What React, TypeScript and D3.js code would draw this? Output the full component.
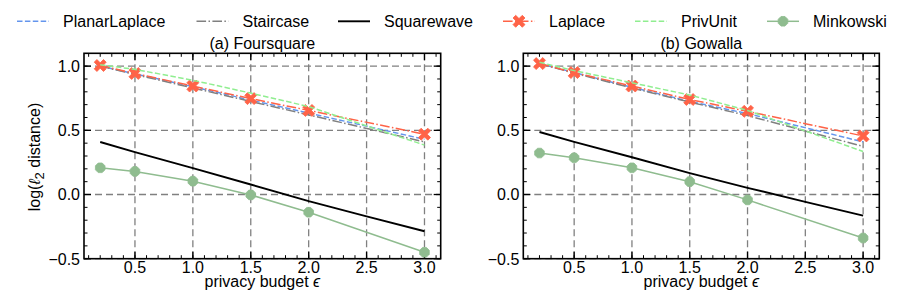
import * as d3 from "d3";

// x positions (privacy budget epsilon)
const epsilons = [0.2, 0.5, 1.0, 1.5, 2.0, 3.0];
const epsilonsSquare = [0.2, 0.5, 1.0, 1.5, 2.0, 2.5, 3.0];

// (a) Foursquare
const fsPlanarLaplace = [1.0, 0.94, 0.84, 0.735, 0.635, 0.43];
const fsStaircase = [1.0, 0.935, 0.83, 0.725, 0.62, 0.41];
const fsSquarewave = [0.409, 0.33, 0.206, 0.078, -0.052, -0.17, -0.286];
const fsLaplace = [1.005, 0.943, 0.845, 0.747, 0.655, 0.47];
const fsPrivUnit = [1.01, 0.975, 0.89, 0.79, 0.685, 0.385];
const fsMinkowski = [0.208, 0.18, 0.104, -0.003, -0.138, -0.45];

// (b) Gowalla
const gwPlanarLaplace = [1.02, 0.95, 0.835, 0.725, 0.63, 0.41];
const gwStaircase = [1.02, 0.945, 0.83, 0.72, 0.615, 0.375];
const gwSquarewave = [0.487, 0.41, 0.29, 0.167, 0.052, -0.057, -0.164];
const gwLaplace = [1.02, 0.95, 0.845, 0.74, 0.648, 0.456];
const gwPrivUnit = [1.03, 0.965, 0.87, 0.775, 0.655, 0.335];
const gwMinkowski = [0.323, 0.286, 0.208, 0.1, -0.042, -0.339];

const xTicks = [0.5, 1.0, 1.5, 2.0, 2.5, 3.0];
const yTicks = [-0.5, 0.0, 0.5, 1.0];

const FONT = "'Liberation Sans', Arial, Helvetica, sans-serif";
const TOP = 53.3;
const BOTTOM = 258.7;

type Series = {
  name: string;
  xs: number[];
  ys: number[];
  color: string;
  dash?: string;
  width: number;
  marker?: "x" | "oct";
};

const styles = {
  PlanarLaplace: { color: "#6495ED", dash: "5.5,2.4", width: 1.5 },
  Staircase: { color: "#808080", dash: "9.6,2.4,1.5,2.4", width: 1.5 },
  Squarewave: { color: "#000000", dash: undefined, width: 1.9 },
  Laplace: { color: "#FF6347", dash: "9.6,2.4,1.5,2.4", width: 1.5 },
  PrivUnit: { color: "#90EE90", dash: "5.5,2.4", width: 1.5 },
  Minkowski: { color: "#8FBC8F", dash: undefined, width: 1.5 },
};

function makeSeries(
  pl: number[],
  st: number[],
  sq: number[],
  la: number[],
  pu: number[],
  mi: number[]
): Series[] {
  return [
    { name: "PlanarLaplace", xs: epsilons, ys: pl, ...styles.PlanarLaplace },
    { name: "Staircase", xs: epsilons, ys: st, ...styles.Staircase },
    { name: "Squarewave", xs: epsilonsSquare, ys: sq, ...styles.Squarewave },
    { name: "Laplace", xs: epsilons, ys: la, ...styles.Laplace, marker: "x" },
    { name: "PrivUnit", xs: epsilons, ys: pu, ...styles.PrivUnit },
    { name: "Minkowski", xs: epsilons, ys: mi, ...styles.Minkowski, marker: "oct" },
  ];
}

const xPath = (s: number) => {
  const a = s * 0.45;
  const b = s;
  return `M${-b},${-b + a}L${-b + a},${-b}L0,${-a}L${b - a},${-b}L${b},${-b + a}L${a},0L${b},${b - a}L${b - a},${b}L0,${a}L${-b + a},${b}L${-b},${b - a}L${-a},0Z`;
};

const octPath = (r: number) => {
  const pts = d3.range(8).map((i) => {
    const t = (Math.PI / 8) * (2 * i + 1);
    return [r * Math.cos(t), r * Math.sin(t)];
  });
  return "M" + pts.map((p) => p.join(",")).join("L") + "Z";
};

function Marker({ type, color, x, y }: { type?: string; color: string; x: number; y: number }) {
  if (type === "x")
    return <path d={xPath(6)} transform={`translate(${x},${y})`} fill={color} stroke={color} strokeWidth={0.8} />;
  if (type === "oct")
    return <path d={octPath(5.2)} transform={`translate(${x},${y})`} fill={color} stroke={color} strokeWidth={0.8} />;
  return null;
}

function Panel({ left, right, title, series }: { left: number; right: number; title: string; series: Series[] }) {
  const x = d3.scaleLinear().domain([0.06, 3.14]).range([left, right]);
  const y = d3.scaleLinear().domain([-0.5, 1.1]).range([BOTTOM, TOP]);
  const xMinor = d3.range(1, 32).map((i) => i / 10).filter((v) => v > 0.06 && v < 3.14);
  const yMinor = d3.range(-5, 11).map((i) => i / 10);
  const line = d3
    .line<[number, number]>()
    .x((d) => x(d[0]))
    .y((d) => y(d[1]));
  const cx = (left + right) / 2;

  return (
    <g>
      <clipPath id={`clip-${left}`}>
        <rect x={left} y={TOP} width={right - left} height={BOTTOM - TOP} />
      </clipPath>
      {/* grid */}
      {xTicks.map((t) => (
        <line key={"gx" + t} x1={x(t)} x2={x(t)} y1={TOP} y2={BOTTOM} stroke="#808080" strokeWidth={1.3} strokeDasharray="7,4" />
      ))}
      {yTicks.map((t) => (
        <line key={"gy" + t} x1={left} x2={right} y1={y(t)} y2={y(t)} stroke="#808080" strokeWidth={1.3} strokeDasharray="7,4" />
      ))}
      {/* ticks */}
      {xMinor.map((t) => (
        <g key={"xm" + t}>
          <line x1={x(t)} x2={x(t)} y1={BOTTOM} y2={BOTTOM - 3.5} stroke="#000" strokeWidth={1} />
          <line x1={x(t)} x2={x(t)} y1={TOP} y2={TOP + 3.5} stroke="#000" strokeWidth={1} />
        </g>
      ))}
      {yMinor.map((t) => (
        <g key={"ym" + t}>
          <line x1={left} x2={left + 3.5} y1={y(t)} y2={y(t)} stroke="#000" strokeWidth={1} />
          <line x1={right} x2={right - 3.5} y1={y(t)} y2={y(t)} stroke="#000" strokeWidth={1} />
        </g>
      ))}
      {xTicks.map((t) => (
        <g key={"xt" + t}>
          <line x1={x(t)} x2={x(t)} y1={BOTTOM} y2={BOTTOM - 7} stroke="#000" strokeWidth={1.3} />
          <line x1={x(t)} x2={x(t)} y1={TOP} y2={TOP + 7} stroke="#000" strokeWidth={1.3} />
          <text x={x(t)} y={BOTTOM + 14.3} textAnchor="middle" fontSize={16}>
            {t.toFixed(1)}
          </text>
        </g>
      ))}
      {yTicks.map((t) => (
        <g key={"yt" + t}>
          <line x1={left} x2={left + 7} y1={y(t)} y2={y(t)} stroke="#000" strokeWidth={1.3} />
          <line x1={right} x2={right - 7} y1={y(t)} y2={y(t)} stroke="#000" strokeWidth={1.3} />
          <text x={left - 4} y={y(t) + 5.8} textAnchor="end" fontSize={16}>
            {t < 0 ? "\u2212" + Math.abs(t).toFixed(1) : t.toFixed(1)}
          </text>
        </g>
      ))}
      {/* series */}
      <g clipPath={`url(#clip-${left})`}>
        {series.map((s) => (
          <g key={s.name}>
            <path
              d={line(s.xs.map((v, i) => [v, s.ys[i]] as [number, number])) || ""}
              fill="none"
              stroke={s.color}
              strokeWidth={s.width}
              strokeDasharray={s.dash}
            />
            {s.marker &&
              s.xs.map((v, i) => <Marker key={i} type={s.marker} color={s.color} x={x(v)} y={y(s.ys[i])} />)}
          </g>
        ))}
      </g>
      {/* frame */}
      <rect x={left} y={TOP} width={right - left} height={BOTTOM - TOP} fill="none" stroke="#000" strokeWidth={1.6} />
      <text x={cx} y={49} textAnchor="middle" fontSize={16}>
        {title}
      </text>
      <text x={cx} y={286.5} textAnchor="middle" fontSize={16}>
        privacy budget <tspan fontStyle="italic">ϵ</tspan>
      </text>
    </g>
  );
}

const legendItems = [
  { name: "PlanarLaplace", x0: 17, marker: undefined },
  { name: "Staircase", x0: 196.5, marker: undefined },
  { name: "Squarewave", x0: 338, marker: undefined },
  { name: "Laplace", x0: 503, marker: "x" },
  { name: "PrivUnit", x0: 635, marker: undefined },
  { name: "Minkowski", x0: 767, marker: "oct" },
];

export default function App() {
  const seriesA = makeSeries(fsPlanarLaplace, fsStaircase, fsSquarewave, fsLaplace, fsPrivUnit, fsMinkowski);
  const seriesB = makeSeries(gwPlanarLaplace, gwStaircase, gwSquarewave, gwLaplace, gwPrivUnit, gwMinkowski);
  return (
    <svg
      width={904}
      height={300}
      style={{ position: "absolute", left: 0, top: 0, background: "#fff" }}
      fontFamily={FONT}
    >
      <rect width={904} height={300} fill="#fff" />
      {legendItems.map((it) => {
        const st = (styles as any)[it.name];
        return (
          <g key={it.name}>
            <line x1={it.x0} x2={it.x0 + 32} y1={21.3} y2={21.3} stroke={st.color} strokeWidth={st.width} strokeDasharray={st.dash} />
            <Marker type={it.marker} color={st.color} x={it.x0 + 16} y={21.3} />
            <text x={it.x0 + 46} y={27.3} fontSize={16}>
              {it.name}
            </text>
          </g>
        );
      })}
      <Panel left={84} right={440.7} title="(a) Foursquare" series={seriesA} />
      <Panel left={523.3} right={879.3} title="(b) Gowalla" series={seriesB} />
      <text transform="translate(40,157) rotate(-90)" textAnchor="middle" fontSize={16}>
        log(<tspan fontStyle="italic">ℓ</tspan>
        <tspan fontSize={13} dy={4}>2</tspan>
        <tspan dy={-4}> distance)</tspan>
      </text>
    </svg>
  );
}
